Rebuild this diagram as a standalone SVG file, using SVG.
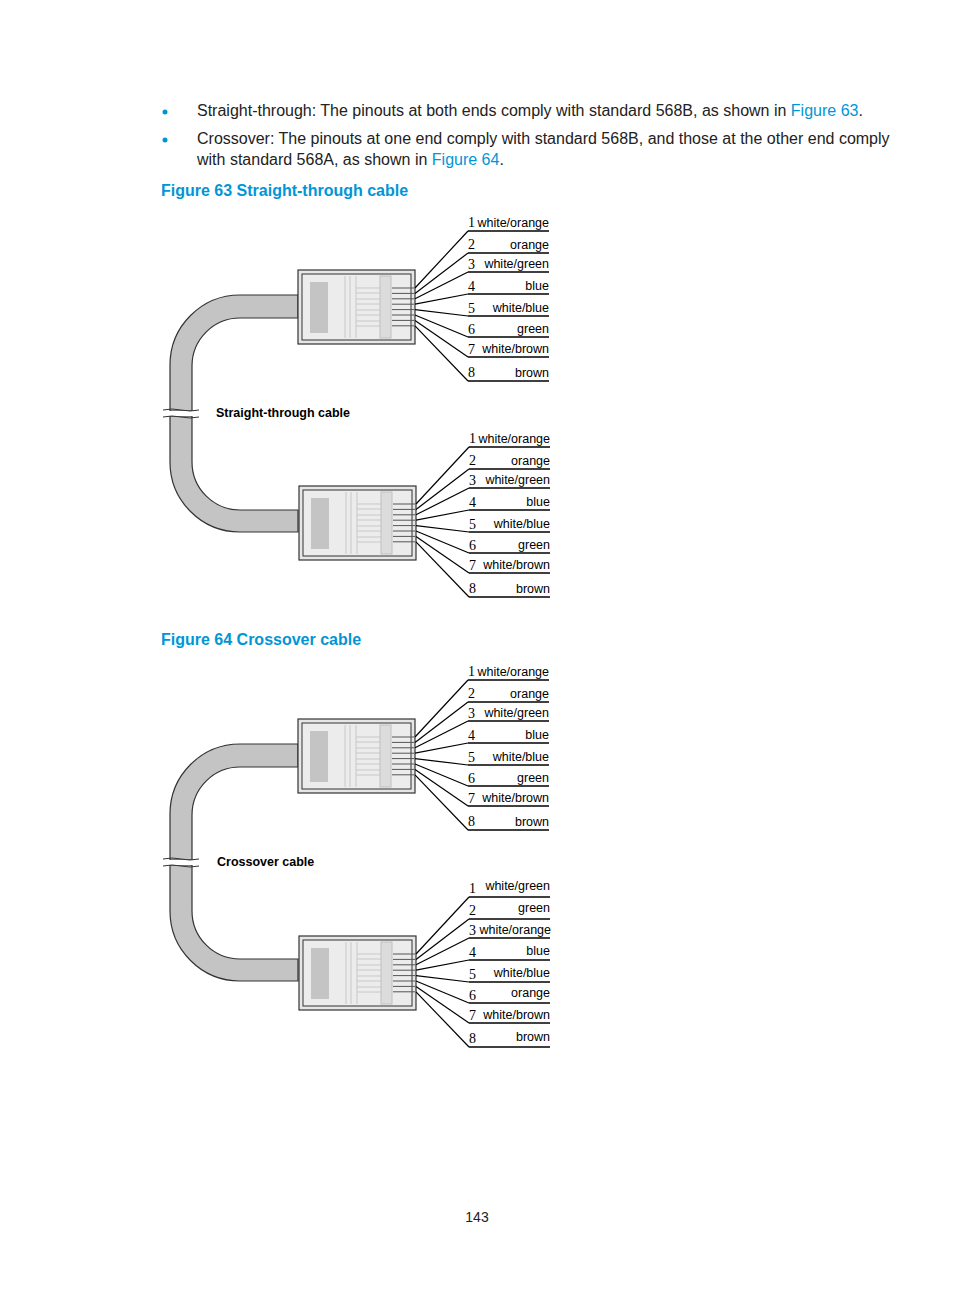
<svg xmlns="http://www.w3.org/2000/svg" width="954" height="1296" viewBox="0 0 954 1296">
<style>
.body{font-family:"Liberation Sans",Arial,sans-serif;font-size:16px;fill:#222}
.link{fill:#0096d6}
.fig{font-family:"Liberation Sans",Arial,sans-serif;font-size:16px;font-weight:bold;fill:#0096d6}
.lbl{font-family:"Liberation Sans",Arial,sans-serif;font-size:12.5px;fill:#000;text-anchor:end}
.num{font-family:"Liberation Serif","Times New Roman",serif;font-size:14px;fill:#000}
.cap{font-family:"Liberation Sans",Arial,sans-serif;font-size:12.5px;font-weight:bold;fill:#000}
.ul{stroke:#000;stroke-width:1.6}
.w{stroke:#000;stroke-width:1.2;fill:none}
.cable{fill:#c4c4c4;stroke:#333;stroke-width:1.2}
</style>
<defs>
<g id="plug">
<rect x="298" y="270" width="117" height="74" fill="#e6e6e6" stroke="#333" stroke-width="1.2"/>
<rect x="302" y="274" width="109" height="66" fill="#ececec" stroke="#333" stroke-width="1"/>
<rect x="310" y="282" width="18" height="51" fill="#c4c4c4"/>
<g stroke="#c8c8c8" stroke-width="1"><line x1="345" y1="276" x2="345" y2="338"/><line x1="350" y1="276" x2="350" y2="338"/><line x1="356" y1="276" x2="356" y2="338"/>
<line x1="356" y1="288" x2="380" y2="288"/><line x1="356" y1="293" x2="380" y2="293"/><line x1="356" y1="299" x2="380" y2="299"/><line x1="356" y1="304" x2="380" y2="304"/><line x1="356" y1="310" x2="380" y2="310"/><line x1="356" y1="315" x2="380" y2="315"/><line x1="356" y1="321" x2="380" y2="321"/><line x1="356" y1="326" x2="380" y2="326"/></g>
<rect x="380" y="276" width="11" height="62" fill="#dcdcdc" stroke="#c0c0c0" stroke-width="1"/>
<g stroke="#555" stroke-width="1"><line x1="392" y1="288" x2="414" y2="288"/><line x1="392" y1="293.4" x2="414" y2="293.4"/><line x1="392" y1="298.8" x2="414" y2="298.8"/><line x1="392" y1="304.2" x2="414" y2="304.2"/><line x1="392" y1="309.6" x2="414" y2="309.6"/><line x1="392" y1="315" x2="414" y2="315"/><line x1="392" y1="320.4" x2="414" y2="320.4"/><line x1="392" y1="325.8" x2="414" y2="325.8"/></g>
<g class="w"><line x1="415" y1="288" x2="468" y2="231"/><line x1="415" y1="293.4" x2="468" y2="253"/><line x1="415" y1="298.8" x2="468" y2="272"/><line x1="415" y1="304.2" x2="468" y2="294"/><line x1="415" y1="309.6" x2="468" y2="316"/><line x1="415" y1="315" x2="468" y2="337"/><line x1="415" y1="320.4" x2="468" y2="357"/><line x1="415" y1="325.8" x2="468" y2="381"/></g>
<g class="ul"><line x1="468" y1="231" x2="549" y2="231"/><line x1="468" y1="253" x2="549" y2="253"/><line x1="468" y1="272" x2="549" y2="272"/><line x1="468" y1="294" x2="549" y2="294"/><line x1="468" y1="316" x2="549" y2="316"/><line x1="468" y1="337" x2="549" y2="337"/><line x1="468" y1="357" x2="549" y2="357"/><line x1="468" y1="381" x2="549" y2="381"/></g>
<g class="num"><text x="468" y="227">1</text><text x="468" y="249">2</text><text x="468" y="269">3</text><text x="468" y="291">4</text><text x="468" y="313">5</text><text x="468" y="334">6</text><text x="468" y="354">7</text><text x="468" y="377">8</text></g>
</g>
<g id="cable">
<path class="cable" d="M298,295 H240 A70,70 0 0 0 170,365 V411 H192 V366 A48,48 0 0 1 240,318 H298 Z"/>
<path class="cable" d="M170,416 V462 A70,70 0 0 0 240,532 H298 V510 H240 A48,48 0 0 1 192,462 V416 Z"/>
<rect x="169" y="411" width="24" height="5" fill="#fff"/>
<path d="M163,410 q9,-2 18,0 t18,0 M163,417 q9,-2 18,0 t18,0" fill="none" stroke="#333" stroke-width="1"/>
</g>
</defs>

<g id="intro">
<circle cx="165" cy="112" r="2.5" fill="#0096d6"/><circle cx="165" cy="140" r="2.5" fill="#0096d6"/>
<text class="body" x="197" y="116">Straight-through: The pinouts at both ends comply with standard 568B, as shown in <tspan class="link">Figure 63</tspan>.</text>
<text class="body" x="197" y="144">Crossover: The pinouts at one end comply with standard 568B, and those at the other end comply</text>
<text class="body" x="197" y="165">with standard 568A, as shown in <tspan class="link">Figure 64</tspan>.</text>
<text class="fig" x="161" y="196">Figure 63 Straight-through cable</text>
<text class="fig" x="161" y="645">Figure 64 Crossover cable</text>
</g>

<g id="connectors">
<use href="#cable"/>
<use href="#cable" transform="translate(0,449)"/>
</g>

<g id="fig63-top"><use href="#plug"/>
<g class="lbl"><text x="549" y="227">white/orange</text><text x="549" y="249">orange</text><text x="549" y="268">white/green</text><text x="549" y="290">blue</text><text x="549" y="312">white/blue</text><text x="549" y="333">green</text><text x="549" y="353">white/brown</text><text x="549" y="377">brown</text></g></g>
<text class="cap" x="216" y="417">Straight-through cable</text>
<g id="fig63-bottom" transform="translate(1,216)"><use href="#plug"/>
<g class="lbl"><text x="549" y="227">white/orange</text><text x="549" y="249">orange</text><text x="549" y="268">white/green</text><text x="549" y="290">blue</text><text x="549" y="312">white/blue</text><text x="549" y="333">green</text><text x="549" y="353">white/brown</text><text x="549" y="377">brown</text></g></g>

<g id="fig64-top" transform="translate(0,449)"><use href="#plug"/>
<g class="lbl"><text x="549" y="227">white/orange</text><text x="549" y="249">orange</text><text x="549" y="268">white/green</text><text x="549" y="290">blue</text><text x="549" y="312">white/blue</text><text x="549" y="333">green</text><text x="549" y="353">white/brown</text><text x="549" y="377">brown</text></g></g>
<text class="cap" x="217" y="866">Crossover cable</text>
<g id="fig64-bottom" transform="translate(1,666)"><use href="#plug"/>
<g class="lbl"><text x="549" y="224">white/green</text><text x="549" y="246">green</text><text x="550" y="268">white/orange</text><text x="549" y="289">blue</text><text x="549" y="311">white/blue</text><text x="549" y="331">orange</text><text x="549" y="353">white/brown</text><text x="549" y="375">brown</text></g></g>

<text class="body" x="477" y="1222" text-anchor="middle" style="font-size:14px">143</text>
</svg>
